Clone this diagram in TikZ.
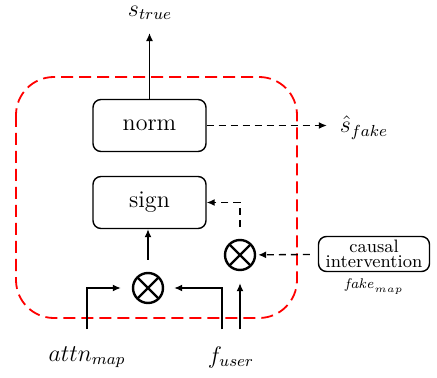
\documentclass[tikz,border=0pt]{standalone}
\usepackage{amsmath}
\usetikzlibrary{arrows.meta,positioning}
\tikzset{/blk/op/.style={rectangle, draw, rounded corners=4pt, line width=0.7pt, minimum width=56.5pt, minimum height=26pt, font=\large}}
\tikzset{/blk/mul/.style={circle, draw, line width=1.2pt, minimum size=15pt, inner sep=0pt,
	path picture={\draw[line width=1.2pt] (path picture bounding box.center) +(45:9pt) -- +(225:9pt) (path picture bounding box.center) +(135:9pt) -- +(-45:9pt);}}}
\tikzset{/blk/ext/.style={rectangle, draw, rounded corners=4pt, line width=0.7pt, minimum width=55.5pt, minimum height=17.5pt, align=center, font=\small, inner sep=0.5pt}}
\tikzset{/blk/flow/.style={line width=0.7pt, -{Latex[length=4pt,width=3.5pt]}}}
\tikzset{/blk/flowd/.style={/blk/flow, dash pattern=on 3.5pt off 2.5pt}}

\begin{document}
\begin{tikzpicture}[x=0.5pt, y=-0.5pt]
		\useasboundingbox (0,0) rectangle (437,378);
		% encoder frame
		\draw[red, line width=0.9pt, dash pattern=on 6pt off 3pt, rounded corners=19pt] (16,77) rectangle (297,318);
		% blocks
		\node[/blk/op] (norm) at (149.5,125.5) {norm};
		\node[/blk/op] (sign) at (149.5,202.5) {sign};
		\node[/blk/mul] (mul1) at (148,288) {};
		\node[/blk/mul] (mul2) at (240,255) {};
		\node[/blk/ext] (causal) at (374,254) {causal\\[-3.5pt]intervention};
		\node[below=0pt of causal, font=\scriptsize] (fakemap) {$\mathit{fake}_{map}$};
		% labels
		\node[font=\large] (strue) at (150,13) {$s_{true}$};
		\node[font=\large] (sfake) at (364,128) {$\hat{s}_{fake}$};
		\node[font=\large] (attn) at (87,357) {$attn_{map}$};
		\node[font=\large] (fuser) at (231,357) {$f_{user}$};
		% connectors
		\draw[/blk/flow, shorten >=3pt] (norm) -- (norm |- strue.south);
		\draw[/blk/flowd, shorten >=3pt] (norm) -- (norm -| sfake.west);
		\draw[/blk/flow, shorten <=6pt] (mul1) -- (mul1 |- sign.south);
		\draw[/blk/flow, shorten <=5pt, shorten >=5.5pt] (attn) |- (mul1);
		\draw[/blk/flow, shorten <=5pt, shorten >=5pt] ([xshift=-4.5pt]fuser.north) |- (mul1);
		\draw[/blk/flow, shorten <=5pt, shorten >=6pt] ([xshift=4.5pt]fuser.north) -- (mul2.south);
		\draw[/blk/flowd, shorten <=4pt, shorten >=1pt] (causal) -- (mul2);
		\draw[/blk/flowd, shorten <=6pt] (mul2.north) |- (sign);
	\end{tikzpicture}
\end{document}
